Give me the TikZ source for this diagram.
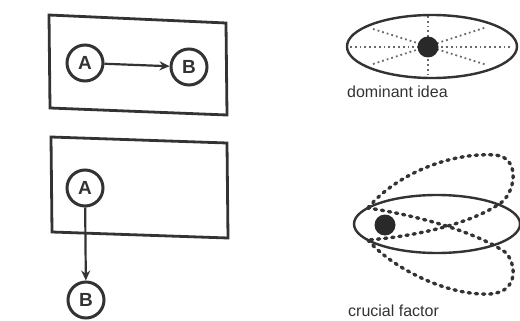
\documentclass[tikz,border=0pt]{standalone}
\usepackage{fontspec}
\setmainfont{Liberation Sans}
\usetikzlibrary{arrows.meta}
\definecolor{ink}{HTML}{333333}
\definecolor{dots}{HTML}{6a6a6a}
\tikzset{
  frame/.style={draw=ink, line width=2.8pt, line join=miter},
  letter/.style={circle, draw=ink, line width=3pt, minimum size=36pt, inner sep=0pt,
    text=ink, font=\fontsize{19}{19}\selectfont\bfseries},
  arr/.style={draw=ink, line width=2.2pt, -{Stealth[length=10pt,width=9pt]}},
  orbit/.style={draw=ink, line width=2.4pt},
  ray/.style={draw=dots, line width=1.8pt, dash pattern=on 1.8pt off 3pt},
  loop/.style={draw=ink, line width=3.4pt, line cap=round, dash pattern=on 2.2pt off 5pt},
  core/.style={circle, fill=ink!80!black, minimum size=21pt, inner sep=0pt},
  caption/.style={anchor=base west, inner sep=0pt, text=ink, font=\fontsize{16}{16}\selectfont}
}
\begin{document}
\begin{tikzpicture}[x=1pt, y=-1pt]
  \useasboundingbox (0,0) rectangle (520,321);

  % top frame: A leads to B within the frame
  \draw[frame] (49,15) -- (226,23) -- (227,115) -- (50,108) -- cycle;
  \node[letter] (topA) at (85,63) {A};
  \node[letter] (topB) at (189,67) {B};
  \draw[arr] (topA) -- (topB);

  % bottom frame: B lies outside the frame
  \draw[frame] (51,137) -- (227,143) -- (228,238) -- (52,232) -- cycle;
  \node[letter] (botA) at (85,188) {A};
  \node[letter] (botB) at (86,300) {B};
  \draw[arr] (botA) -- (botB);

  % dominant idea: central point radiating to the whole ellipse
  \draw[ray] (428,16) -- (428,77);
  \draw[ray] (350,47) -- (512,47);
  \draw[ray] (373,29) -- (487,65);
  \draw[ray] (373,64) -- (487,27);
  \draw[orbit] (432,46.5) ellipse [x radius=85, y radius=31.5];
  \node[core] (hub) at (428,47) {};
  \node[caption] (domlabel) at (347,98) {dominant idea};

  % crucial factor: two loops leaving the ellipse near the left point
  \draw[loop] (368,208) .. controls (395,175) and (450,152) .. (495,155)
              .. controls (520,157) and (516,190) .. (502,202)
              .. controls (475,222) and (420,236) .. (368,240);
  \draw[loop] (368,240) .. controls (390,266) and (445,296) .. (490,294)
              .. controls (520,292) and (516,262) .. (505,252)
              .. controls (475,232) and (420,216) .. (368,208);
  \draw[orbit] (437,224) ellipse [x radius=83, y radius=29];
  \node[core] (key) at (385,225) {};
  \node[caption] (cruclabel) at (348,316) {crucial factor};
\end{tikzpicture}
\end{document}
